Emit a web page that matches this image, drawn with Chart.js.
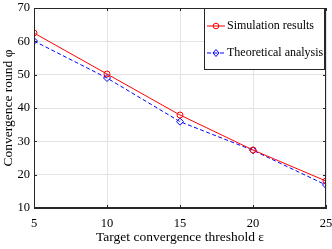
<!DOCTYPE html>
<html>
<head>
<meta charset="utf-8">
<script src="https://cdn.jsdelivr.net/npm/chart.js@4"></script>
<style>
  html, body { margin: 0; padding: 0; background: #fff; }
  #wrap { width: 332px; height: 249px; }
</style>
</head>
<body>
<div id="wrap"><canvas id="convChart" width="332" height="249"></canvas></div>
<script>
// data
const thresholds = [5, 10, 15, 20, 25];
const simulationResults = [62.5, 50.2, 37.9, 27.4, 18.1];
const theoreticalAnalysis = [60.1, 49.0, 35.9, 27.3, 16.9];
const yTicks = [10, 20, 30, 40, 50, 60, 70];

const FONT = "'Liberation Serif', 'Times New Roman', serif";
const AXIS_COLOR = "#262626";

// box, inward ticks and boxed legend drawn like a MATLAB figure
const figurePlugin = {
    id: "figure",
    afterDraw(chart) {
        const ctx = chart.ctx;
        const a = chart.chartArea;
        const xs = chart.scales.x;
        const ys = chart.scales.y;
        ctx.save();
        ctx.strokeStyle = AXIS_COLOR;
        ctx.lineWidth = 1;
        ctx.strokeRect(a.left + 0.5, a.top + 0.5, a.right - a.left - 1, a.bottom - a.top - 1);
        ctx.beginPath();
        thresholds.forEach(v => {
            const px = Math.round(xs.getPixelForValue(v)) + 0.5;
            ctx.moveTo(px, a.bottom); ctx.lineTo(px, a.bottom - 3);
            ctx.moveTo(px, a.top); ctx.lineTo(px, a.top + 3);
        });
        yTicks.forEach(v => {
            const py = Math.round(ys.getPixelForValue(v)) + 0.5;
            ctx.moveTo(a.left, py); ctx.lineTo(a.left + 3, py);
            ctx.moveTo(a.right, py); ctx.lineTo(a.right - 3, py);
        });
        ctx.stroke();

        // legend
        const lx = 204, ly = 8, lw = 120, lh = 61;
        ctx.fillStyle = "#fff";
        ctx.fillRect(lx, ly, lw, lh);
        ctx.strokeStyle = AXIS_COLOR;
        ctx.strokeRect(lx + 0.5, ly + 0.5, lw, lh);
        ctx.font = "12px " + FONT;
        ctx.textBaseline = "middle";
        chart.data.datasets.forEach((ds, i) => {
            const cy = ly + 18 + i * 27;
            ctx.strokeStyle = ds.borderColor;
            ctx.setLineDash(ds.borderDash || []);
            ctx.beginPath();
            ctx.moveTo(lx + 3, cy); ctx.lineTo(lx + 21, cy);
            ctx.stroke();
            ctx.setLineDash([]);
            ctx.beginPath();
            if (ds.pointStyle === "rectRot") {
                ctx.moveTo(lx + 12, cy - 3.5); ctx.lineTo(lx + 15, cy);
                ctx.lineTo(lx + 12, cy + 3.5); ctx.lineTo(lx + 9, cy);
                ctx.closePath();
            } else {
                ctx.arc(lx + 12, cy, 2.8, 0, Math.PI * 2);
            }
            ctx.stroke();
            ctx.fillStyle = "#000";
            ctx.fillText(ds.label, lx + 23, cy);
        });
        ctx.restore();
    }
};

const ctx = document.getElementById("convChart").getContext("2d");

new Chart(ctx, {
    type: "line",
    data: {
        datasets: [
            {
                label: "Simulation results",
                data: thresholds.map((x, i) => ({ x: x, y: simulationResults[i] })),
                borderColor: "#ff0000",
                backgroundColor: "rgba(0,0,0,0)",
                borderWidth: 1,
                pointStyle: "circle",
                pointRadius: 3,
                pointBorderWidth: 1,
                tension: 0
            },
            {
                label: "Theoretical analysis",
                data: thresholds.map((x, i) => ({ x: x, y: theoreticalAnalysis[i] })),
                borderColor: "#0000ff",
                backgroundColor: "rgba(0,0,0,0)",
                borderWidth: 1,
                borderDash: [4, 2.5],
                pointStyle: "rectRot",
                pointRadius: 3.5,
                pointBorderWidth: 1,
                tension: 0
            }
        ]
    },
    options: {
        responsive: false,
        animation: false,
        layout: {
            padding: { top: 8, right: 6, left: 0, bottom: 0 }
        },
        plugins: {
            legend: { display: false },
            tooltip: { enabled: false }
        },
        scales: {
            x: {
                type: "linear",
                min: 5,
                max: 25,
                ticks: {
                    stepSize: 5,
                    color: "#000",
                    padding: 8,
                    font: { family: FONT, size: 12.5 }
                },
                grid: { color: "#e3e3e3", drawTicks: false },
                border: { color: AXIS_COLOR },
                title: {
                    display: true,
                    text: "Target convergence threshold ε",
                    color: "#000",
                    padding: { top: 1, bottom: 3 },
                    font: { family: FONT, size: 13.5 }
                },
                afterFit(scale) {
                    scale.height = 41;
                    scale.paddingLeft = 0;
                    scale.paddingRight = 0;
                }
            },
            y: {
                min: 10,
                max: 70,
                ticks: {
                    stepSize: 10,
                    color: "#000",
                    padding: 4,
                    font: { family: FONT, size: 12.5 }
                },
                grid: { color: "#e3e3e3", drawTicks: false },
                border: { color: AXIS_COLOR },
                title: {
                    display: true,
                    text: "Convergence round φ",
                    color: "#000",
                    padding: { top: 0, bottom: 2 },
                    font: { family: FONT, size: 13.5 }
                },
                afterFit(scale) {
                    scale.width = 34;
                    scale.paddingTop = 0;
                    scale.paddingBottom = 0;
                }
            }
        }
    },
    plugins: [figurePlugin]
});
</script>
</body>
</html>
